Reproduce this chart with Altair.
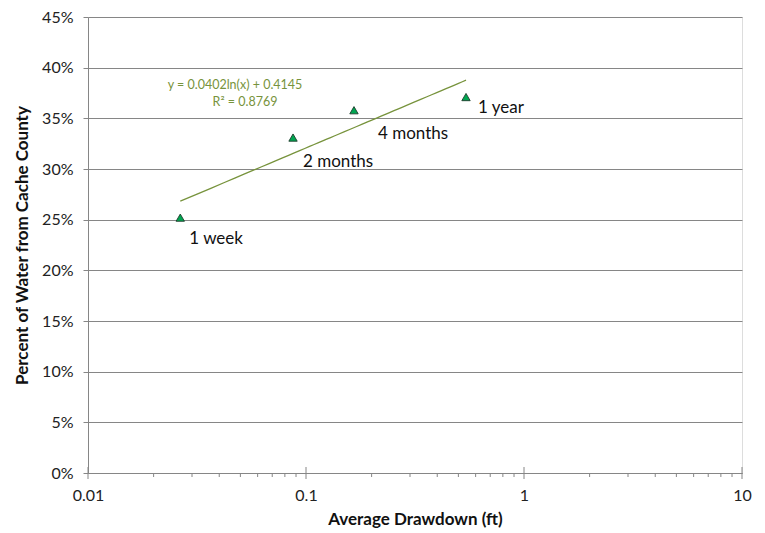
import altair as alt
import pandas as pd

# ---- data ----
drawdown = [0.0265, 0.0872, 0.166, 0.542]
percent = [0.252, 0.331, 0.358, 0.371]
labels = ["1 week", "2 months", "4 months", "1 year"]

x_major = [0.01, 0.1, 1, 10]
x_minor = [0.02, 0.03, 0.04, 0.05, 0.06, 0.07, 0.08, 0.09,
           0.2, 0.3, 0.4, 0.5, 0.6, 0.7, 0.8, 0.9,
           2, 3, 4, 5, 6, 7, 8, 9]
y_ticks = [0, 0.05, 0.10, 0.15, 0.20, 0.25, 0.30, 0.35, 0.40, 0.45]
eq_text = ["y = 0.0402ln(x) + 0.4145", "R² = 0.8769"]

W, H = 654, 456
FONT = "Lato"
GREEN_LINE = "#77933C"

df = pd.DataFrame({"x": drawdown, "y": percent, "label": labels})
xscale = alt.Scale(type="log", domain=[0.01, 10], nice=False)
yscale = alt.Scale(domain=[0, 0.45], nice=False)

xaxis = alt.Axis(values=x_major, format="~g", title="Average Drawdown (ft)",
                 ticks=False, grid=False, domainColor="#868686",
                 labelFont=FONT, labelFontSize=16, labelColor="#222",
                 labelPadding=14, titleFont=FONT, titleFontSize=17,
                 titleFontWeight="bold", titleColor="#111", titlePadding=8,
                 labelFlush=False)
yaxis = alt.Axis(values=y_ticks, format=".0%", title="Percent of Water from Cache County",
                 tickSize=5, tickColor="#868686", domainColor="#868686",
                 gridColor="#868686", grid=True,
                 labelFont=FONT, labelFontSize=16, labelColor="#222",
                 labelPadding=10, titleFont=FONT, titleFontSize=17,
                 titleFontWeight="bold", titleColor="#111", titlePadding=10)

base = alt.Chart(df)

points = base.mark_point(shape="triangle-up", filled=True, fill="#00A651",
                         stroke="#1d3b2b", strokeWidth=0.9, size=70, opacity=1).encode(
    x=alt.X("x:Q", scale=xscale, axis=xaxis),
    y=alt.Y("y:Q", scale=yscale, axis=yaxis),
)

trend = base.transform_regression("x", "y", method="log").mark_line(
    color=GREEN_LINE, strokeWidth=1.3).encode(
    x=alt.X("x:Q", scale=xscale),
    y=alt.Y("y:Q", scale=yscale),
)

offsets = {"1 week": (9, 21), "2 months": (10, 24), "4 months": (24, 24), "1 year": (12, 11)}
label_layers = []
for lab, (dx, dy) in offsets.items():
    label_layers.append(
        base.transform_filter(alt.datum.label == lab).mark_text(
            align="left", baseline="middle", dx=dx, dy=dy, font=FONT,
            fontSize=17, color="#111").encode(
            x=alt.X("x:Q", scale=xscale),
            y=alt.Y("y:Q", scale=yscale),
            text="label:N",
        )
    )

eq1 = alt.Chart(pd.DataFrame({"t": [eq_text[0]]})).mark_text(
    align="center", baseline="middle", font=FONT, fontSize=12.5, color=GREEN_LINE).encode(
    x=alt.value(147), y=alt.value(68), text="t:N")
eq2 = alt.Chart(pd.DataFrame({"t": [eq_text[1]]})).mark_text(
    align="center", baseline="middle", font=FONT, fontSize=12.5, color=GREEN_LINE).encode(
    x=alt.value(157), y=alt.value(85), text="t:N")

major = alt.Chart(pd.DataFrame({"v": x_major})).mark_rule(color="#868686", strokeWidth=1).encode(
    x=alt.X("v:Q", scale=xscale), y=alt.value(H - 6), y2=alt.value(H + 6))
minor = alt.Chart(pd.DataFrame({"v": x_minor})).mark_rule(color="#868686", strokeWidth=1).encode(
    x=alt.X("v:Q", scale=xscale), y=alt.value(H), y2=alt.value(H + 4))

chart = alt.layer(points, trend, *label_layers, eq1, eq2, major, minor).properties(
    width=W, height=H,
    autosize=alt.AutoSizeParams(type="none"),
    padding={"left": 80, "top": 9, "right": 10, "bottom": 60},
).configure_view(stroke=None).configure(background="white")

chart.save("out.html", embed_options={"renderer": "svg", "actions": False})
